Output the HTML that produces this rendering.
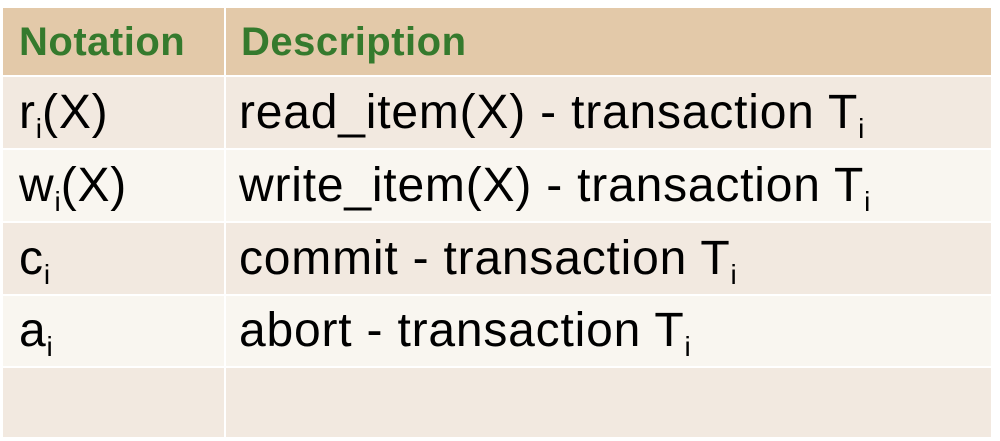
<!DOCTYPE html>
<html><head><style>
body{margin:0;width:1000px;height:441px;background:#fff;position:relative;overflow:hidden;font-family:"Liberation Sans",Arial,sans-serif;}
.c{position:absolute;box-sizing:border-box;display:flex;align-items:center;font-size:48px;color:#000;white-space:nowrap;letter-spacing:0.8px;}
.h{background:#e3c9a9;color:#357a2d;font-weight:bold;font-size:40px;letter-spacing:0.5px;}
.a{background:#f2e9e0;}
.b{background:#f9f6f0;}
.c span{display:inline-block;line-height:1;}
sub{font-size:28px;vertical-align:-10px;line-height:0;letter-spacing:0;}
</style></head><body>
<div class="c h" style="left:3px;top:8px;width:221px;height:67px;padding-left:16px"><span>Notation</span></div>
<div class="c h" style="left:226px;top:8px;width:765px;height:67px;padding-left:15px"><span>Description</span></div>

<div class="c a" style="left:3px;top:77px;width:221px;height:71px;padding-left:16px"><span>r<sub>i</sub>(X)</span></div>
<div class="c a" style="left:226px;top:77px;width:765px;height:71px;padding-left:13px"><span>read_item(X) - transaction T<sub>i</sub></span></div>

<div class="c b" style="left:3px;top:150px;width:221px;height:71px;padding-left:16px"><span>w<sub>i</sub>(X)</span></div>
<div class="c b" style="left:226px;top:150px;width:765px;height:71px;padding-left:13px"><span>write_item(X) - transaction T<sub>i</sub></span></div>

<div class="c a" style="left:3px;top:223px;width:221px;height:71px;padding-left:16px"><span>c<sub>i</sub></span></div>
<div class="c a" style="left:226px;top:223px;width:765px;height:71px;padding-left:13px"><span>commit - transaction T<sub>i</sub></span></div>

<div class="c b" style="left:3px;top:296px;width:221px;height:70px;padding-left:16px"><span>a<sub>i</sub></span></div>
<div class="c b" style="left:226px;top:296px;width:765px;height:70px;padding-left:13px"><span>abort - transaction T<sub>i</sub></span></div>

<div class="c a" style="left:3px;top:368px;width:221px;height:69px"></div>
<div class="c a" style="left:226px;top:368px;width:765px;height:69px"></div>
</body></html>
